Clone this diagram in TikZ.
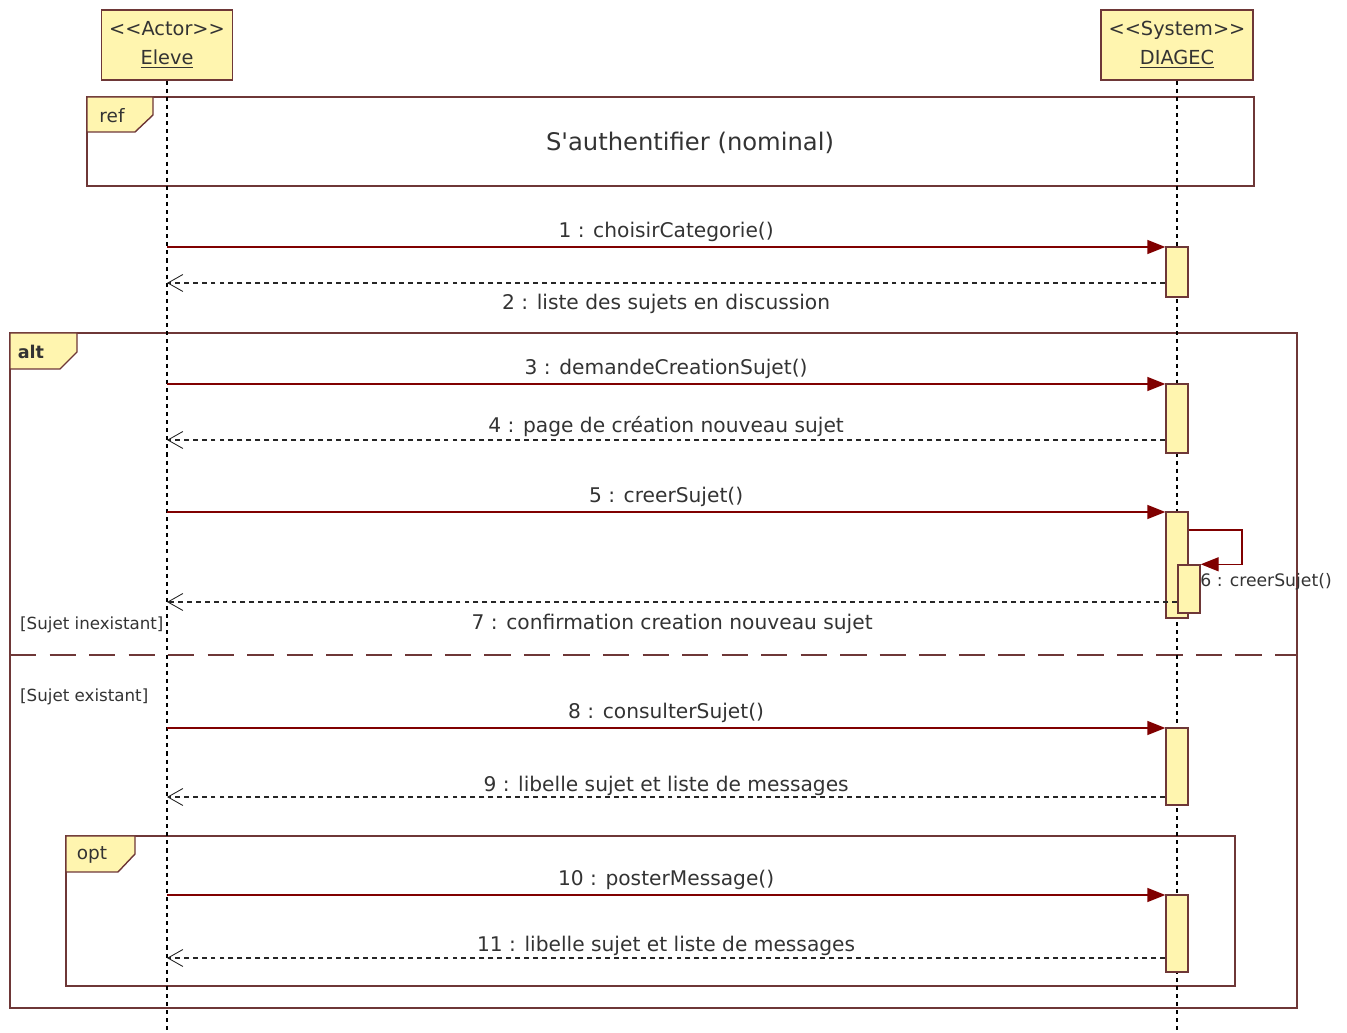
\documentclass[tikz,border=0pt]{standalone}
\usepackage{fontspec}
\setmainfont{DejaVu Sans}
\usetikzlibrary{arrows.meta}
\definecolor{framebrown}{RGB}{110,55,55}
\definecolor{callred}{RGB}{128,0,0}
\definecolor{boxfill}{RGB}{255,245,175}
\tikzset{
  objbox/.style={draw=framebrown, fill=boxfill, line width=0.8pt, minimum height=1.4cm,
    align=center, inner sep=0pt, font=\fontsize{11}{16.5}\selectfont, text=black!80},
  actbar/.style={draw=framebrown, fill=boxfill, line width=0.8pt, minimum width=0.44cm, inner sep=0pt},
  lifeline/.style={black, line width=0.7pt, dash pattern=on 2.3pt off 2.3pt},
  call/.style={callred, line width=0.8pt, -{Triangle[length=0.36cm,width=0.28cm]}},
  reply/.style={black!85, line width=0.7pt, dash pattern=on 2.8pt off 2.3pt,
    -{Straight Barb[length=0.3cm,width=0.34cm,line width=0.5pt]}},
  msg/.style={font=\fontsize{11.5}{14}\selectfont, text=black!80},
  frame/.style={draw=framebrown, line width=0.8pt},
  fragtag/.style={draw=framebrown, fill=boxfill, line width=0.8pt},
  tagtext/.style={font=\fontsize{10.5}{12}\selectfont, text=black!80},
  guard/.style={font=\fontsize{9.5}{12}\selectfont, anchor=west, text=black!80},
}
\begin{document}
\begin{tikzpicture}[x=0.02cm, y=-0.02cm]
\useasboundingbox (0,0) rectangle (1347,1033);
\coordinate (bottom) at (0,1033);

% fragments
\draw[frame] (87,97) rectangle (1254,186);
\draw[fragtag] (87,97) -- (153,97) -- (153,115) -- (135,132) -- (87,132) -- cycle;
\node[tagtext] (reftag) at (112,116) {ref};
\node[font=\fontsize{13.8}{16}\selectfont, text=black!80] (reftitle) at (690,143) {S\textquotesingle authentifier (nominal)};

\draw[frame] (10,333) rectangle (1297,1008);
\draw[fragtag] (10,333) -- (77,333) -- (77,352) -- (60,369) -- (10,369) -- cycle;
\node[tagtext, font=\fontsize{10}{12}\selectfont\bfseries] (alttag) at (31,352) {alt};
\draw[frame, dash pattern=on 15pt off 7.5pt] (10,655) -- (1297,655);
\node[guard] (g1) at (14,625) {[Sujet inexistant]};
\node[guard] (g2) at (14,697) {[Sujet existant]};

\draw[frame] (66,836) rectangle (1235,986);
\draw[fragtag] (66,836) -- (135,836) -- (135,854) -- (118,872) -- (66,872) -- cycle;
\node[tagtext] (opttag) at (92,855) {opt};

% objets et lignes de vie
\node[objbox, minimum width=2.62cm] (eleve) at (167,45) {<{}<Actor>{}>\\\underline{Eleve}};
\node[objbox, minimum width=3.04cm] (diagec) at (1177,45) {<{}<System>{}>\\\underline{DIAGEC}};
\draw[lifeline] (eleve.south) -- (eleve.south |- bottom);
\draw[lifeline] (diagec.south) -- (diagec.south |- bottom);

% activations
\node[actbar, minimum height=1cm] (a1) at (1177,272) {};
\node[actbar, minimum height=1.38cm] (a2) at (1177,418.5) {};
\node[actbar, minimum height=2.12cm] (a3) at (1177,565) {};
\node[actbar, minimum height=0.96cm] (a3b) at (1189,589) {};
\node[actbar, minimum height=1.54cm] (a4) at (1177,766.5) {};
\node[actbar, minimum height=1.54cm] (a5) at (1177,933.5) {};

% messages
\coordinate (m1) at (167,247);
\coordinate (m2) at (167,283);
\coordinate (m3) at (167,384);
\coordinate (m4) at (167,440);
\coordinate (m5) at (167,512);
\coordinate (m7) at (167,602);
\coordinate (m8) at (167,728);
\coordinate (m9) at (167,797);
\coordinate (m10) at (167,895);
\coordinate (m11) at (167,958);
\coordinate (s6) at (1242,530);

\draw[call] (m1) -- (m1 -| a1.west) node[msg, midway, above=-0.5pt] {1 : choisirCategorie()};
\draw[reply] (a1.west |- m2) -- (m2) node[msg, midway, below=2.5pt] {2 : liste des sujets en discussion};
\draw[call] (m3) -- (m3 -| a2.west) node[msg, midway, above=-0.5pt] {3 : demandeCreationSujet()};
\draw[reply] (a2.west |- m4) -- (m4) node[msg, midway, above, inner sep=1.5pt] {4 : page de création nouveau sujet};
\draw[call] (m5) -- (m5 -| a3.west) node[msg, midway, above=-0.5pt] {5 : creerSujet()};
\draw[call] (a3.east |- s6) -- (s6) -- (s6 |- a3b.north) -- (a3b.north east);
\node[msg, font=\fontsize{9.8}{12}\selectfont, anchor=west, inner sep=0pt] (l6) at (1200,582) {6 : creerSujet()};
\draw[reply] (a3b.west |- m7) -- (m7) node[msg, midway, below=3pt] {7 : confirmation creation nouveau sujet};
\draw[call] (m8) -- (m8 -| a4.west) node[msg, midway, above=-1pt] {8 : consulterSujet()};
\draw[reply] (a4.west |- m9) -- (m9) node[msg, midway, above, inner sep=0.5pt] {9 : libelle sujet et liste de messages};
\draw[call] (m10) -- (m10 -| a5.west) node[msg, midway, above=-1pt] {10 : posterMessage()};
\draw[reply] (a5.west |- m11) -- (m11) node[msg, midway, above, inner sep=1pt] {11 : libelle sujet et liste de messages};
\end{tikzpicture}
\end{document}
